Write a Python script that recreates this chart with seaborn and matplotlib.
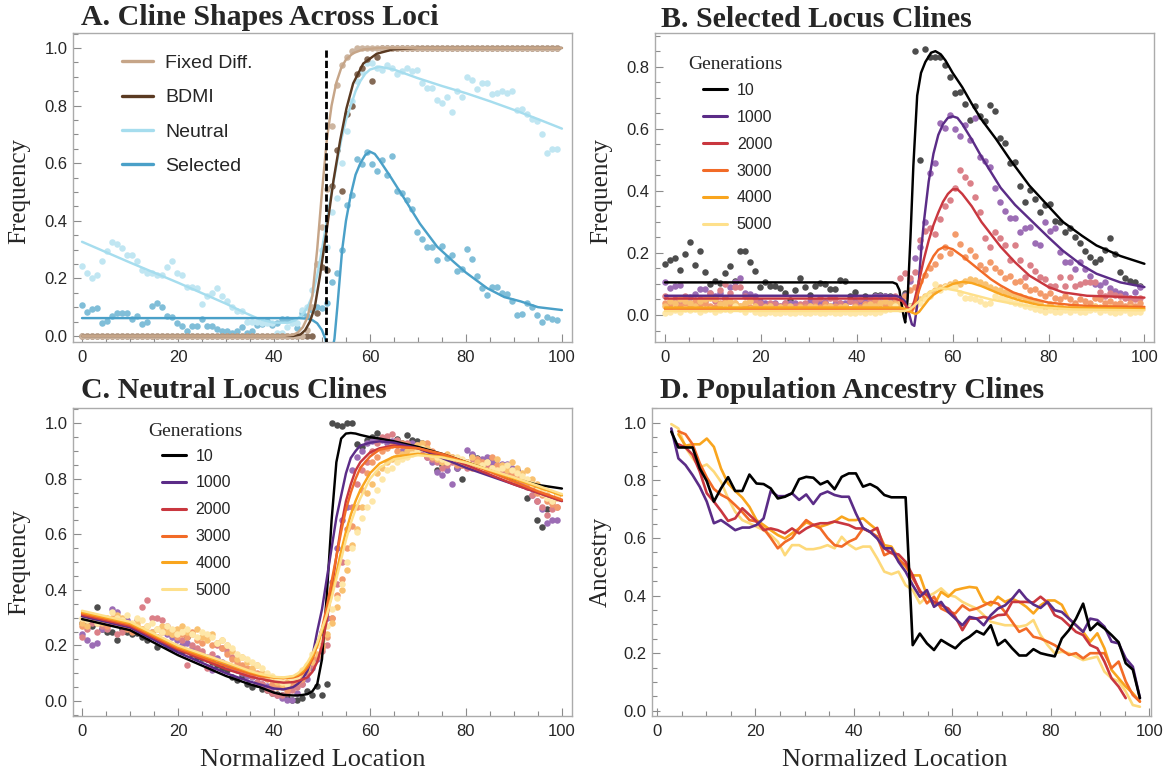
import numpy as np
import matplotlib
matplotlib.use("Agg")
import matplotlib.pyplot as plt
import seaborn as sns
from matplotlib.lines import Line2D
from matplotlib.ticker import MultipleLocator

sns.set_style("white")
plt.rcParams['font.family'] = ['Liberation Sans', 'DejaVu Sans']
SERIF = ['Liberation Serif', 'DejaVu Serif']

# ---------------------------------------------------------------- data
LOC = np.linspace(0, 99, 96)        # deme positions (normalized location)
D_LOC = np.linspace(2.9, 98.1, 67)  # ancestry window positions

GENS = ['10', '1000', '2000', '3000', '4000', '5000']

# Panel A – observed frequencies
A_FIXED = [0.0]*45 + [0.02, 0.10, 0.25, 0.38, 0.51, 0.73, 0.87, 0.94, 0.97, 0.99] + [1.0]*41
A_BDMI = [0.0]*47 + [0.08, 0.24, 0.23, 0.52, 0.645, 0.505, 0.77, 0.80, 0.91, 0.93, 0.96, 0.886, 0.97] + [1.0]*36
A_NEU = [0.243,0.22,0.20,0.21,0.26,0.296,0.326,0.32,0.305,0.28,
         0.28,0.26,0.23,0.22,0.22,0.21,0.21,0.24,0.26,0.22,
         0.21,0.17,0.17,0.165,0.11,0.14,0.15,0.165,0.14,0.12,
         0.10,0.085,0.085,0.05,0.05,0.05,0.045,0.045,0.045,0.01,
         0.01,0.03,0.045,0.045,0.09,0.10,0.16,0.25,0.30,0.31,
         0.43,0.48,0.60,0.71,0.815,0.886,0.918,0.947,0.947,0.93,
         0.925,0.94,0.93,0.91,0.92,0.93,0.92,0.925,0.877,0.86,
         0.86,0.82,0.81,0.83,0.778,0.85,0.83,0.90,0.89,0.857,
         0.88,0.88,0.84,0.843,0.85,0.845,0.85,0.784,0.787,0.77,
         0.753,0.748,0.70,0.637,0.65,0.65]
A_SEL = [0.106,0.084,0.092,0.097,0.044,0.053,0.07,0.08,0.08,0.08,
         0.06,0.07,0.042,0.047,0.104,0.115,0.10,0.07,0.065,0.044,
         0.036,0.018,0.036,0.036,0.06,0.036,0.036,0.024,0.018,0.018,
         0.009,0.017,0.03,0.01,0.017,0.038,0.04,0.053,0.038,0.046,
         0.058,0.06,0.053,0.028,0.08,0.07,0.09,0.10,0.097,0.114,
         0.189,0.22,0.30,0.455,0.49,0.613,0.596,0.64,0.596,0.573,
         0.61,0.56,0.625,0.503,0.495,0.472,0.44,0.362,0.336,0.31,
         0.31,0.264,0.312,0.272,0.28,0.226,0.234,0.302,0.267,0.208,
         0.166,0.143,0.17,0.17,0.149,0.145,0.122,0.073,0.077,0.116,
         0.099,0.073,0.05,0.065,0.058,0.056]

# Panel A – fitted clines
A_FIXED_CX = [0, 42, 44, 45, 46, 47, 48, 49, 50, 51, 52, 53, 54, 55, 56.5, 58.6, 62, 100]
A_FIXED_CY = [0, 0, 0.004, 0.012, 0.03, 0.065, 0.14, 0.30, 0.50, 0.68, 0.80, 0.88, 0.93, 0.96, 0.982, 0.995, 1.0, 1.0]
A_BDMI_CX = [0, 44, 45.5, 46.5, 47.5, 48.5, 49.6, 51, 52.4, 53.8, 55.1, 56.5, 58.6, 61.4, 64.8, 70, 100]
A_BDMI_CY = [0, 0, 0.005, 0.02, 0.05, 0.10, 0.21, 0.37, 0.54, 0.68, 0.79, 0.877, 0.946, 0.98, 0.995, 1.0, 1.0]
A_NEU_CX = [0, 10, 20, 30, 34, 37, 40, 43, 44.5, 46, 47, 48, 49, 50, 51, 52, 53, 54, 55, 56,
            57, 58, 59, 60, 62, 65, 70, 75, 80, 85, 90, 95, 100]
A_NEU_CY = [0.327, 0.255, 0.185, 0.112, 0.08, 0.058, 0.046, 0.046, 0.055, 0.075, 0.10, 0.14, 0.21, 0.30,
            0.40, 0.50, 0.59, 0.68, 0.75, 0.80, 0.85, 0.885, 0.91, 0.925, 0.935, 0.925, 0.895, 0.868,
            0.843, 0.815, 0.785, 0.753, 0.72]
A_SEL_CX = [0, 45, 47, 48, 49, 50, 50.7, 51.2, 52, 52.6, 53.2, 54.2, 55, 56, 57, 58, 59, 60, 61, 62,
            64, 66.9, 70.4, 74, 77.4, 80, 84.4, 88, 91.4, 95, 100]
A_SEL_CY = [0.062, 0.062, 0.06, 0.055, 0.044, 0.02, -0.01, -0.05, -0.06, -0.01, 0.10, 0.298, 0.40, 0.49,
            0.56, 0.60, 0.628, 0.64, 0.632, 0.61, 0.56, 0.484, 0.39, 0.31, 0.258, 0.22, 0.166, 0.135,
            0.12, 0.10, 0.09]
A_DIVIDE_X = 50.8

# Panel B – selected locus, observed
B_10 = [0.165,0.178,0.183,0.145,0.195,0.235,0.162,0.207,0.138,0.10,
        0.108,0.104,0.135,0.158,0.11,0.205,0.207,0.17,0.142,0.09,
        0.105,0.092,0.092,0.087,0.07,0.048,0.08,0.119,0.09,0.066,
        0.094,0.103,0.10,0.084,0.084,0.114,0.108,0.06,0.073,0.046,
        0.06,0.05,0.066,0.066,0.062,0.06,0.05,0.035,0.07,0.03,
        0.85,0.50,0.856,0.83,0.83,0.83,0.804,0.767,0.715,0.718,
        0.68,0.627,0.672,0.64,0.624,0.675,0.656,0.571,0.555,0.49,
        0.492,0.417,0.363,0.403,0.373,0.331,0.353,0.358,0.304,0.301,
        0.268,0.279,0.25,0.231,0.207,0.188,0.172,0.18,0.21,0.247,
        0.195,0.138,0.118,0.108,0.105,0.094]
B_1000 = [0.107,0.087,0.094,0.098,0.052,0.057,0.068,0.084,0.084,0.07,
          0.06,0.07,0.055,0.09,0.105,0.118,0.07,0.068,0.062,0.046,
          0.04,0.035,0.04,0.03,0.038,0.04,0.04,0.032,0.035,0.045,
          0.03,0.038,0.042,0.03,0.035,0.04,0.04,0.045,0.05,0.035,
          0.045,0.05,0.062,0.062,0.06,0.058,0.055,0.035,0.064,0.11,
          0.185,0.22,0.30,0.456,0.49,0.617,0.603,0.645,0.598,0.577,
          0.612,0.564,0.634,0.508,0.497,0.478,0.408,0.363,0.336,0.312,
          0.312,0.268,0.279,0.283,0.231,0.226,0.30,0.27,0.28,0.204,
          0.172,0.17,0.148,0.17,0.148,0.127,0.10,0.097,0.107,0.086,
          0.078,0.072,0.068,0.054,0.075,0.09]
B_2000 = [0.06,0.046,0.05,0.045,0.06,0.04,0.035,0.05,0.045,0.07,
          0.045,0.08,0.10,0.07,0.09,0.09,0.06,0.05,0.045,0.04,
          0.03,0.04,0.035,0.03,0.04,0.025,0.03,0.035,0.04,0.03,
          0.045,0.055,0.04,0.055,0.05,0.04,0.03,0.045,0.04,0.05,
          0.035,0.045,0.05,0.04,0.05,0.04,0.06,0.12,0.135,0.118,
          0.14,0.242,0.27,0.28,0.26,0.31,0.35,0.37,0.41,0.468,
          0.444,0.426,0.379,0.333,0.247,0.22,0.268,0.247,0.224,0.178,
          0.224,0.178,0.121,0.16,0.143,0.121,0.116,0.094,0.094,0.121,
          0.094,0.121,0.094,0.10,0.105,0.105,0.105,0.073,0.062,0.07,
          0.065,0.06,0.055,0.055,0.05,0.055]
B_3000 = [0.04,0.035,0.02,0.03,0.04,0.03,0.045,0.035,0.04,0.03,
          0.025,0.04,0.05,0.035,0.04,0.03,0.035,0.025,0.03,0.02,
          0.025,0.03,0.02,0.025,0.03,0.02,0.02,0.03,0.025,0.02,
          0.03,0.025,0.035,0.02,0.03,0.025,0.03,0.02,0.03,0.025,
          0.035,0.03,0.045,0.04,0.035,0.03,0.045,0.05,0.06,0.08,
          0.09,0.11,0.13,0.15,0.165,0.19,0.22,0.20,0.26,0.23,
          0.186,0.21,0.19,0.16,0.148,0.17,0.15,0.14,0.12,0.125,
          0.105,0.11,0.095,0.08,0.085,0.07,0.06,0.07,0.055,0.05,
          0.06,0.05,0.04,0.05,0.045,0.04,0.055,0.05,0.04,0.045,
          0.035,0.04,0.03,0.04,0.03,0.04]
B_4000 = [0.03,0.045,0.04,0.05,0.045,0.04,0.03,0.045,0.05,0.055,
          0.05,0.035,0.04,0.045,0.04,0.03,0.04,0.045,0.03,0.02,
          0.025,0.03,0.02,0.025,0.02,0.03,0.02,0.025,0.02,0.03,
          0.025,0.02,0.025,0.03,0.02,0.025,0.03,0.02,0.025,0.02,
          0.03,0.035,0.03,0.04,0.045,0.04,0.035,0.04,0.03,0.025,
          0.03,0.05,0.06,0.07,0.08,0.09,0.095,0.10,0.105,0.10,
          0.11,0.115,0.112,0.105,0.10,0.09,0.085,0.08,0.075,0.07,
          0.065,0.06,0.055,0.05,0.045,0.04,0.02,0.035,0.015,0.03,
          0.02,0.025,0.03,0.02,0.025,0.02,0.03,0.025,0.02,0.025,
          0.02,0.015,0.02,0.025,0.02,0.02]
B_5000 = [0.005,0.01,0.015,0.01,0.02,0.015,0.02,0.01,0.015,0.02,
          0.01,0.015,0.02,0.015,0.03,0.02,0.01,0.02,0.01,0.005,
          0.005,0.01,0.005,0.005,0.01,0.005,0.005,0.01,0.005,0.005,
          0.01,0.005,0.005,0.01,0.005,0.005,0.01,0.005,0.005,0.01,
          0.005,0.01,0.005,0.01,0.015,0.02,0.03,0.02,0.025,0.03,
          0.035,0.04,0.05,0.06,0.10,0.08,0.09,0.095,0.09,0.07,
          0.055,0.055,0.05,0.045,0.035,0.04,0.06,0.055,0.05,0.045,
          0.04,0.035,0.03,0.025,0.02,0.015,0.01,0.015,0.01,0.01,
          0.015,0.01,0.015,0.01,0.01,0.015,0.02,0.01,0.015,0.01,
          0.005,0.01,0.015,0.005,0.01,0.01]

# Panel B – fitted clines (x, y per generation)
B_FIT_X = {
    '10':   [0, 47.5, 48.3, 48.9, 49.4, 49.8, 50.1, 50.6, 51.2, 51.8, 52.6, 53.4, 54.3, 55.5, 56.4, 57.5,
             58.5, 60, 62, 64, 66, 69, 72, 76, 80, 83, 87, 90, 95, 100],
    '1000': [0, 48, 49, 50, 50.8, 51.5, 52, 52.5, 53, 53.5, 54, 55, 56, 57, 58, 59, 60, 61, 62, 64, 66,
             68, 70, 73, 76, 80, 83, 87, 90, 95, 100],
    '2000': [0, 48, 49.5, 50.5, 51, 51.5, 52, 53, 54, 55, 56, 57, 58, 59, 60, 61, 62, 64, 66, 68, 70,
             73, 76, 80, 83, 88, 100],
    '3000': [0, 49, 50.5, 51.5, 52, 53, 54, 55, 56, 57, 58.3, 60, 62, 64, 66, 68, 70, 72.6, 76, 80,
             85, 90, 100],
    '4000': [0, 49, 50.5, 51.5, 52.3, 53, 54, 55, 56, 58, 60, 62, 64, 66, 68, 70, 74, 78, 84, 100],
    '5000': [0, 50, 51, 52, 53, 54, 55, 56, 57.5, 59, 61, 64, 68, 72, 78, 85, 100],
}
B_FIT_Y = {
    '10':   [0.105, 0.105, 0.10, 0.08, 0.03, -0.005, -0.024, 0.05, 0.25, 0.48, 0.707, 0.78, 0.815, 0.845,
             0.85, 0.84, 0.82, 0.78, 0.734, 0.68, 0.63, 0.568, 0.50, 0.417, 0.35, 0.30, 0.255, 0.224,
             0.19, 0.165],
    '1000': [0.062, 0.062, 0.058, 0.045, 0.01, -0.03, -0.035, 0.02, 0.12, 0.22, 0.30, 0.43, 0.52, 0.58,
             0.615, 0.635, 0.64, 0.635, 0.615, 0.565, 0.51, 0.46, 0.41, 0.355, 0.31, 0.25, 0.207, 0.16,
             0.133, 0.105, 0.09],
    '2000': [0.053, 0.053, 0.045, 0.025, 0.02, 0.025, 0.045, 0.11, 0.18, 0.24, 0.29, 0.33, 0.365, 0.39,
             0.405, 0.405, 0.39, 0.35, 0.30, 0.26, 0.22, 0.17, 0.127, 0.09, 0.073, 0.062, 0.056],
    '3000': [0.02, 0.02, 0.012, 0.01, 0.03, 0.08, 0.125, 0.16, 0.19, 0.21, 0.22, 0.212, 0.19, 0.165,
             0.14, 0.115, 0.095, 0.073, 0.055, 0.04, 0.032, 0.028, 0.026],
    '4000': [0.024, 0.024, 0.018, 0.008, 0.003, 0.01, 0.03, 0.05, 0.065, 0.085, 0.10, 0.107, 0.103,
             0.093, 0.08, 0.067, 0.047, 0.032, 0.024, 0.02],
    '5000': [0.013, 0.013, 0.018, 0.03, 0.045, 0.06, 0.072, 0.08, 0.086, 0.084, 0.078, 0.066, 0.05,
             0.038, 0.025, 0.018, 0.015],
}

# Panel C – neutral locus, observed
C_10 = [0.28,0.275,0.27,0.34,0.26,0.25,0.25,0.22,0.26,0.25,
        0.24,0.245,0.23,0.22,0.24,0.195,0.215,0.20,0.19,0.19,
        0.18,0.23,0.17,0.16,0.155,0.15,0.14,0.13,0.12,0.11,
        0.085,0.075,0.09,0.06,0.05,0.06,0.045,0.04,0.03,0.025,
        0.02,0.01,0.005,0.005,0.01,0.035,0.02,0.055,0.02,0.063,
        1.0,0.995,0.99,1.0,1.0,0.925,0.916,0.94,0.95,0.965,
        0.945,0.94,0.93,0.945,0.93,0.958,0.94,0.935,0.93,0.90,
        0.88,0.83,0.85,0.86,0.87,0.84,0.80,0.86,0.885,0.875,
        0.86,0.87,0.86,0.85,0.85,0.84,0.83,0.83,0.80,0.73,
        0.77,0.652,0.628,0.69,0.72,0.74]
C_1000 = [0.24,0.22,0.20,0.21,0.26,0.27,0.33,0.32,0.29,0.29,
          0.27,0.26,0.25,0.24,0.25,0.23,0.22,0.24,0.23,0.22,
          0.20,0.21,0.19,0.18,0.17,0.16,0.11,0.155,0.14,0.13,
          0.12,0.11,0.10,0.09,0.085,0.07,0.06,0.055,0.05,0.02,
          0.01,0.005,0.005,0.03,0.06,0.08,0.12,0.15,0.25,0.30,
          0.43,0.55,0.65,0.70,0.83,0.88,0.90,0.93,0.935,0.94,
          0.94,0.93,0.935,0.92,0.90,0.91,0.93,0.92,0.90,0.88,
          0.86,0.825,0.815,0.83,0.78,0.84,0.86,0.904,0.89,0.87,
          0.87,0.88,0.86,0.85,0.855,0.855,0.84,0.83,0.80,0.78,
          0.74,0.72,0.69,0.64,0.65,0.65]
C_2000 = [0.23,0.26,0.28,0.25,0.27,0.26,0.28,0.24,0.25,0.27,
          0.26,0.29,0.34,0.365,0.30,0.30,0.29,0.27,0.25,0.24,
          0.22,0.13,0.20,0.19,0.18,0.12,0.17,0.20,0.19,0.18,
          0.16,0.13,0.11,0.10,0.09,0.07,0.06,0.04,0.03,0.02,
          0.02,0.03,0.04,0.05,0.06,0.10,0.13,0.16,0.18,0.20,
          0.30,0.42,0.50,0.62,0.70,0.78,0.83,0.86,0.90,0.93,
          0.95,0.955,0.96,0.94,0.92,0.93,0.91,0.92,0.90,0.88,
          0.87,0.86,0.84,0.85,0.86,0.87,0.85,0.84,0.86,0.87,
          0.86,0.85,0.84,0.85,0.83,0.82,0.80,0.79,0.78,0.77,
          0.74,0.72,0.70,0.67,0.69,0.70]
C_3000 = [0.27,0.29,0.30,0.28,0.29,0.27,0.30,0.28,0.27,0.26,
          0.25,0.27,0.26,0.25,0.24,0.23,0.25,0.26,0.24,0.23,
          0.24,0.23,0.25,0.22,0.21,0.23,0.20,0.21,0.19,0.17,
          0.15,0.14,0.13,0.12,0.11,0.10,0.09,0.08,0.06,0.05,
          0.05,0.04,0.06,0.07,0.08,0.11,0.15,0.16,0.19,0.23,
          0.30,0.38,0.44,0.55,0.63,0.70,0.76,0.82,0.86,0.88,
          0.90,0.91,0.92,0.90,0.93,0.92,0.91,0.90,0.92,0.93,
          0.90,0.88,0.87,0.86,0.88,0.85,0.85,0.86,0.84,0.87,
          0.86,0.83,0.88,0.85,0.84,0.83,0.82,0.81,0.80,0.79,
          0.77,0.75,0.74,0.72,0.71,0.70]
C_4000 = [0.28,0.27,0.30,0.29,0.28,0.30,0.29,0.31,0.30,0.28,
          0.27,0.28,0.26,0.27,0.25,0.26,0.27,0.25,0.24,0.26,
          0.27,0.25,0.24,0.26,0.23,0.22,0.24,0.21,0.22,0.20,
          0.18,0.15,0.16,0.14,0.12,0.13,0.10,0.09,0.08,0.07,
          0.06,0.07,0.08,0.09,0.10,0.12,0.14,0.17,0.20,0.24,
          0.28,0.34,0.40,0.47,0.56,0.62,0.70,0.75,0.78,0.82,
          0.84,0.86,0.87,0.88,0.89,0.90,0.91,0.92,0.93,0.91,
          0.88,0.87,0.86,0.89,0.88,0.87,0.86,0.85,0.88,0.86,
          0.85,0.86,0.84,0.87,0.85,0.83,0.86,0.84,0.82,0.83,
          0.80,0.78,0.76,0.74,0.72,0.73]
C_5000 = [0.30,0.29,0.31,0.28,0.30,0.29,0.32,0.30,0.29,0.31,
          0.28,0.30,0.29,0.27,0.28,0.26,0.25,0.27,0.26,0.24,
          0.25,0.26,0.24,0.23,0.25,0.24,0.23,0.21,0.22,0.20,
          0.19,0.17,0.16,0.15,0.14,0.13,0.12,0.10,0.09,0.08,
          0.07,0.06,0.08,0.09,0.11,0.13,0.17,0.20,0.22,0.27,
          0.33,0.37,0.42,0.50,0.55,0.61,0.66,0.70,0.72,0.76,
          0.80,0.83,0.84,0.86,0.87,0.88,0.89,0.90,0.91,0.90,
          0.89,0.88,0.87,0.86,0.87,0.88,0.87,0.86,0.85,0.84,
          0.85,0.86,0.84,0.83,0.84,0.85,0.83,0.82,0.81,0.80,
          0.78,0.76,0.75,0.73,0.72,0.74]

# Panel C – fitted clines
C_FIT_X = [0, 10, 20, 30, 35, 37, 40, 42, 44, 45, 46, 47, 48, 49, 50, 51, 52, 53, 54, 55, 56, 57, 58,
           60, 62, 65, 70, 75, 80, 85, 90, 95, 100]
C_FIT_Y = {
    '10':   [0.295, 0.255, 0.165, 0.09, 0.06, 0.05, 0.03, 0.022, 0.02, 0.02, 0.022, 0.025, 0.035, 0.06,
             0.15, 0.38, 0.65, 0.86, 0.945, 0.963, 0.965, 0.963, 0.958, 0.95, 0.945, 0.935, 0.915,
             0.89, 0.86, 0.83, 0.80, 0.778, 0.765],
    '1000': [0.305, 0.265, 0.175, 0.10, 0.07, 0.06, 0.045, 0.042, 0.05, 0.062, 0.08, 0.11, 0.16, 0.25,
             0.33, 0.44, 0.55, 0.66, 0.74, 0.82, 0.875, 0.90, 0.92, 0.93, 0.935, 0.93, 0.91, 0.875,
             0.84, 0.81, 0.78, 0.75, 0.72],
    '2000': [0.31, 0.27, 0.185, 0.115, 0.088, 0.08, 0.07, 0.066, 0.068, 0.072, 0.078, 0.085, 0.105,
             0.14, 0.20, 0.29, 0.40, 0.52, 0.63, 0.72, 0.78, 0.83, 0.86, 0.895, 0.91, 0.92, 0.91,
             0.885, 0.85, 0.815, 0.78, 0.75, 0.72],
    '3000': [0.315, 0.275, 0.19, 0.125, 0.098, 0.09, 0.085, 0.082, 0.085, 0.09, 0.10, 0.12, 0.15, 0.20,
             0.26, 0.34, 0.43, 0.52, 0.61, 0.69, 0.75, 0.80, 0.84, 0.88, 0.905, 0.915, 0.91, 0.89,
             0.86, 0.825, 0.79, 0.755, 0.725],
    '4000': [0.32, 0.28, 0.195, 0.135, 0.105, 0.095, 0.085, 0.083, 0.088, 0.095, 0.108, 0.13, 0.16,
             0.20, 0.25, 0.31, 0.38, 0.46, 0.54, 0.61, 0.67, 0.72, 0.76, 0.82, 0.855, 0.88, 0.89,
             0.88, 0.86, 0.83, 0.80, 0.77, 0.74],
    '5000': [0.325, 0.285, 0.20, 0.14, 0.108, 0.098, 0.087, 0.085, 0.09, 0.10, 0.115, 0.14, 0.17, 0.21,
             0.26, 0.31, 0.37, 0.44, 0.51, 0.58, 0.64, 0.69, 0.73, 0.80, 0.84, 0.87, 0.885, 0.877,
             0.858, 0.832, 0.805, 0.775, 0.745],
}

# Panel D – population ancestry
D_10 = [0.969,0.914,0.914,0.914,0.842,0.797,0.726,0.772,0.811,0.763,0.763,0.82,0.789,0.787,0.772,
        0.737,0.743,0.755,0.804,0.812,0.809,0.786,0.797,0.769,0.812,0.824,0.824,0.778,0.787,0.774,
        0.749,0.741,0.741,0.741,
        0.228,0.268,0.234,0.211,0.246,0.231,0.217,0.242,0.257,0.277,0.265,0.297,0.228,0.246,0.217,
        0.192,0.192,0.214,0.2,0.194,0.189,0.251,0.28,0.32,0.372,0.28,0.304,0.286,0.263,0.238,0.165,
        0.143,0.044]
D_1000 = [0.98,0.876,0.853,0.818,0.778,0.726,0.651,0.662,0.645,0.627,0.636,0.636,0.645,0.668,
          0.763,0.745,0.745,0.755,0.732,0.751,0.718,0.751,0.761,0.749,0.743,0.743,0.685,0.635,0.621,
          0.598,0.564,0.564,0.517,0.483,
          0.436,0.396,0.419,0.361,0.378,0.343,0.32,0.297,0.326,0.32,0.297,0.332,0.355,0.366,0.389,
          0.419,0.389,0.369,0.357,0.378,0.349,0.343,0.32,0.297,0.274,0.32,0.315,0.292,0.24,0.234,
          0.182,0.153,0.044]
D_2000 = [np.nan,0.925,0.914,0.889,0.831,0.755,0.726,0.694,0.659,0.668,0.703,0.68,0.657,0.627,0.633,
          0.627,0.616,0.633,0.616,0.633,0.645,0.651,0.651,0.657,0.651,0.645,0.633,0.633,0.621,0.635,
          0.564,0.547,0.543,0.517,
          0.47,0.413,0.402,0.378,0.367,0.355,0.326,0.28,0.32,0.32,0.326,0.32,0.332,0.334,0.378,0.378,
          0.378,0.376,0.396,0.376,0.332,0.32,0.297,0.274,0.263,0.228,0.217,0.171,0.113,0.084,0.044,
          np.nan,np.nan]
D_3000 = [np.nan,0.97,0.96,0.925,0.86,0.81,0.77,0.75,0.737,0.714,0.69,0.662,0.657,0.633,0.6,0.564,
          0.586,0.6,0.633,0.662,0.645,0.633,0.6,0.575,0.57,0.587,0.598,0.633,0.621,0.605,0.54,0.552,
          0.523,0.506,
          0.46,0.419,0.373,0.396,0.355,0.343,0.338,0.366,0.349,0.355,0.366,0.378,0.372,0.343,0.309,
          0.274,0.286,0.257,0.251,0.24,0.228,0.211,0.194,0.2,0.182,0.2,0.2,0.2,0.148,0.171,0.102,
          0.055,0.032]
D_4000 = [np.nan,0.96,0.92,0.925,0.925,0.945,0.916,0.841,0.789,0.763,0.74,0.708,0.662,0.645,0.627,
          0.61,0.598,0.616,0.633,0.654,0.645,0.639,0.647,0.657,0.674,0.662,0.662,0.668,0.647,0.627,
          0.575,0.57,0.529,0.50,
          0.47,0.47,0.40,0.366,0.413,0.396,0.419,0.425,0.43,0.427,0.378,0.366,0.396,0.378,0.389,
          0.378,0.361,0.338,0.366,0.383,0.383,0.368,0.32,0.297,0.274,0.24,0.269,0.217,0.142,0.113,
          0.084,0.061,0.032]
D_5000 = [0.995,0.98,0.914,0.877,0.845,0.855,0.83,0.795,0.737,0.691,0.662,0.651,0.639,0.627,0.61,
          0.587,0.54,0.575,0.575,0.561,0.561,0.566,0.575,0.564,0.604,0.577,0.561,0.57,0.57,0.529,
          0.483,0.474,0.483,0.436,
          0.419,0.373,0.396,0.408,0.425,0.402,0.396,0.378,0.366,0.355,0.332,0.309,0.303,0.297,0.297,
          0.292,0.297,0.315,0.263,0.228,0.2,0.205,0.2,0.188,0.176,0.182,0.188,0.136,0.113,0.102,
          0.067,0.02,0.014]

# ---------------------------------------------------------------- styles
LINE_C = {'10': '#000000', '1000': '#5B2C87', '2000': '#C9373F',
          '3000': '#F26B27', '4000': '#F9A51E', '5000': '#FEE08B'}
DOT_C = {'10': '#4D4D4D', '1000': '#9C6DB5', '2000': '#DB8088',
         '3000': '#F39B6B', '4000': '#F9C170', '5000': '#FEE7A8'}
D_LINE_C = dict(LINE_C, **{'5000': '#FDD97A'})
A_COL = {'Fixed Diff.': ('#C6A588', '#CDB5A0'), 'BDMI': ('#5A3A22', '#846A56'),
         'Neutral': ('#A6DDEE', '#C0E6F2'), 'Selected': ('#4AA0C8', '#80BED8')}
DOT_S = 22
LW = 1.75

W, H = 1167, 775
fig = plt.figure(figsize=(W / 100, H / 100), dpi=100)


def add_axes(l, t, r, b):
    return fig.add_axes([l / W, 1 - b / H, (r - l) / W, (b - t) / H])


def style(ax, xlim, ylim, yticks):
    ax.set_xlim(*xlim)
    ax.set_ylim(*ylim)
    ax.set_xticks([0, 20, 40, 60, 80, 100])
    ax.set_xticklabels(['0', '20', '40', '60', '80', '100'])
    ax.xaxis.set_minor_locator(MultipleLocator(5))
    ax.set_yticks(yticks)
    ax.set_yticklabels([f'{v:.1f}' for v in yticks])
    ax.yaxis.set_minor_locator(MultipleLocator(0.05))
    ax.tick_params(which='both', direction='in', color='#8C8C8C', top=False, right=False,
                   bottom=True, left=True, labelsize=12, width=0.8)
    ax.tick_params(which='major', length=6)
    ax.tick_params(which='minor', length=3.5)
    ax.tick_params(axis='y', which='major', pad=4)
    ax.tick_params(axis='x', which='major', pad=6)
    for s in ax.spines.values():
        s.set_visible(True)
        s.set_color('#ABABAB')
        s.set_linewidth(1.0)
    ax.set_xlabel('')
    ax.set_ylabel('')


def line(ax, x, y, color, lw=LW, z=3):
    sns.lineplot(x=x, y=y, color=color, linewidth=lw, ax=ax, legend=False,
                 estimator=None, sort=False, zorder=z)


def dots(ax, y, color, z=2):
    sns.scatterplot(x=LOC, y=y, color=color, s=DOT_S, linewidth=0, ax=ax, legend=False, zorder=z)


def title(x, baseline, text):
    fig.text(x / W, 1 - baseline / H, text, fontsize=21.5, fontweight='bold', family=SERIF,
             ha='left', va='baseline')


def gen_legend(ax, bx, by):
    h = [Line2D([], [], color=LINE_C[g], lw=2.2) for g in GENS]
    ax.legend(h, GENS, loc='upper left', bbox_to_anchor=(bx, by), frameon=False,
              fontsize=11.5, handlelength=1.5, handletextpad=0.62, labelspacing=0.74,
              borderpad=0, borderaxespad=0)


# ---------------------------------------------------------------- Panel A
axA = add_axes(73, 33, 572, 342)
dots(axA, A_SEL, A_COL['Selected'][1])
dots(axA, A_NEU, A_COL['Neutral'][1])
dots(axA, A_BDMI, A_COL['BDMI'][1])
dots(axA, A_FIXED, A_COL['Fixed Diff.'][1])
line(axA, A_NEU_CX, A_NEU_CY, A_COL['Neutral'][0])
line(axA, A_SEL_CX, A_SEL_CY, A_COL['Selected'][0])
line(axA, A_BDMI_CX, A_BDMI_CY, A_COL['BDMI'][0])
line(axA, A_FIXED_CX, A_FIXED_CY, A_COL['Fixed Diff.'][0])
axA.vlines(A_DIVIDE_X, -0.03, 1.0, colors='black', linewidth=2.0,
           linestyles=(0, (2.6, 1.1)), zorder=4)
style(axA, (-1.88, 102.1), (-0.021, 1.052), [0, 0.2, 0.4, 0.6, 0.8, 1.0])
hA = [Line2D([], [], color=A_COL[k][0], lw=2.4) for k in A_COL]
axA.legend(hA, list(A_COL.keys()), loc='upper left', bbox_to_anchor=(0.098, 0.93),
           frameon=False, fontsize=14, handlelength=1.6, handletextpad=0.62,
           labelspacing=0.85, borderpad=0, borderaxespad=0)
axA.set_ylabel('Frequency', family=SERIF, fontsize=18)
axA.yaxis.set_label_coords(-0.086, 0.49)
title(81, 25, 'A. Cline Shapes Across Loci')

# ---------------------------------------------------------------- Panel B
axB = add_axes(655, 33, 1154, 342)
B_OBS = {'10': B_10, '1000': B_1000, '2000': B_2000, '3000': B_3000, '4000': B_4000, '5000': B_5000}
for g in GENS:
    dots(axB, B_OBS[g], DOT_C[g])
for g in GENS:
    line(axB, B_FIT_X[g], B_FIT_Y[g], LINE_C[g])
style(axB, (-2.09, 102.0), (-0.087, 0.9085), [0, 0.2, 0.4, 0.6, 0.8])
gen_legend(axB, 0.0962, 0.838)
axB.text(0.066, 0.8835, 'Generations', transform=axB.transAxes, family=SERIF, fontsize=14,
         ha='left', va='baseline')
axB.set_ylabel('Frequency', family=SERIF, fontsize=18)
axB.yaxis.set_label_coords(-0.086, 0.49)
title(661, 27, 'B. Selected Locus Clines')

# ---------------------------------------------------------------- Panel C
axC = add_axes(73, 408, 572, 716)
C_OBS = {'10': C_10, '1000': C_1000, '2000': C_2000, '3000': C_3000, '4000': C_4000, '5000': C_5000}
for g in GENS:
    dots(axC, C_OBS[g], DOT_C[g])
for g in GENS:
    line(axC, C_FIT_X, C_FIT_Y[g], LINE_C[g])
style(axC, (-1.88, 102.1), (-0.054, 1.055), [0, 0.2, 0.4, 0.6, 0.8, 1.0])
gen_legend(axC, 0.178, 0.868)
axC.text(0.150, 0.909, 'Generations', transform=axC.transAxes, family=SERIF, fontsize=14,
         ha='left', va='baseline')
axC.set_ylabel('Frequency', family=SERIF, fontsize=18)
axC.yaxis.set_label_coords(-0.086, 0.5)
axC.set_xlabel('Normalized Location', family=SERIF, fontsize=19)
axC.xaxis.set_label_coords(0.48, -0.108)
title(81, 398, 'C. Neutral Locus Clines')

# ---------------------------------------------------------------- Panel D
axD = add_axes(652, 408, 1151, 716)
D_OBS = {'10': D_10, '1000': D_1000, '2000': D_2000, '3000': D_3000, '4000': D_4000, '5000': D_5000}
for g in GENS[::-1]:
    line(axD, D_LOC, D_OBS[g], D_LINE_C[g], lw=1.9)
style(axD, (-1.02, 100.35), (-0.018, 1.051), [0, 0.2, 0.4, 0.6, 0.8, 1.0])
axD.set_ylabel('Ancestry', family=SERIF, fontsize=18)
axD.yaxis.set_label_coords(-0.08, 0.5)
axD.set_xlabel('Normalized Location', family=SERIF, fontsize=19)
axD.xaxis.set_label_coords(0.487, -0.108)
title(660, 398, 'D. Population Ancestry Clines')

fig.savefig('out.png', dpi=100)
